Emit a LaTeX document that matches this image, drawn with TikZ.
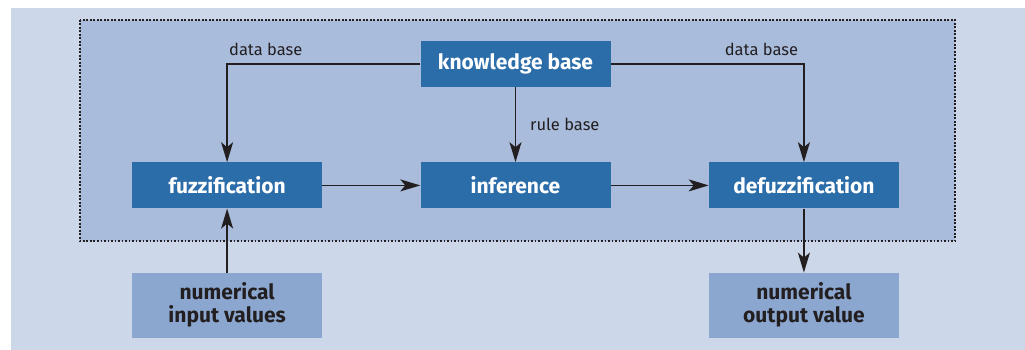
\documentclass[tikz,border=0pt]{standalone}
\usepackage{fontspec}
\setmainfont{Fira Sans}
\usetikzlibrary{arrows.meta,positioning}

\definecolor{pagebg}{HTML}{CCD7E9}
\definecolor{engine}{HTML}{A9BCDC}
\definecolor{darkbox}{HTML}{2B6DA9}
\definecolor{lightbox}{HTML}{8BA7D0}
\definecolor{ink}{HTML}{231F20}

\begin{document}
\begin{tikzpicture}[
			x=1pt, y=-1pt,
			>={Stealth[length=20pt,width=12pt,inset=5pt]},
			link/.style={draw=ink, line width=1.4pt},
			block/.style={fill=darkbox, text=white, font=\fontsize{21}{24}\selectfont\bfseries,
				minimum width=190pt, minimum height=46pt, inner sep=0pt},
			io/.style={fill=lightbox, text=ink, font=\fontsize{21}{23}\selectfont\bfseries,
				align=center, minimum width=190pt, minimum height=65pt, inner sep=0pt},
			tag/.style={text=ink, font=\fontsize{16.5}{18}\selectfont, inner sep=2pt}
	]
	\useasboundingbox (0,0) rectangle (1025,350);
	\fill[pagebg] (11,8) rectangle (1025,350);
	\filldraw[fill=engine, draw=ink, line width=1.8pt, dash pattern=on 1.8pt off 1.7pt]
		(80,20) rectangle (955,241);
% >> blocks

	\node[block] (knowledge) at (515.5,64) {knowledge base};
	\node[block, below=75pt of knowledge] (inference) {inference};
	\node[block, left=98pt of inference] (fuzz) {fuzzification};
	\node[block, right=98pt of inference] (defuzz) {defuzzification};
	\node[io, below=64pt of fuzz] (input) {numerical\\input values};
	\node[io, below=64pt of defuzz] (output) {numerical\\output value};
% >> connectors

	\draw[link, ->] (knowledge.west) -| node[tag, above=6pt, pos=0.4] {data base} (fuzz.north);
	\draw[link, ->] (knowledge.east) -| node[tag, above=6pt, pos=0.39] {data base} (defuzz.north);
	\draw[link, ->] (knowledge) -- node[tag, right=12pt] {rule base} (inference);
	\draw[link, ->] (fuzz) -- (inference);
	\draw[link, ->] (inference) -- (defuzz);
	\draw[link, ->] (input) -- (fuzz);
	\draw[link, ->] (defuzz) -- (output);
\end{tikzpicture}
\end{document}
